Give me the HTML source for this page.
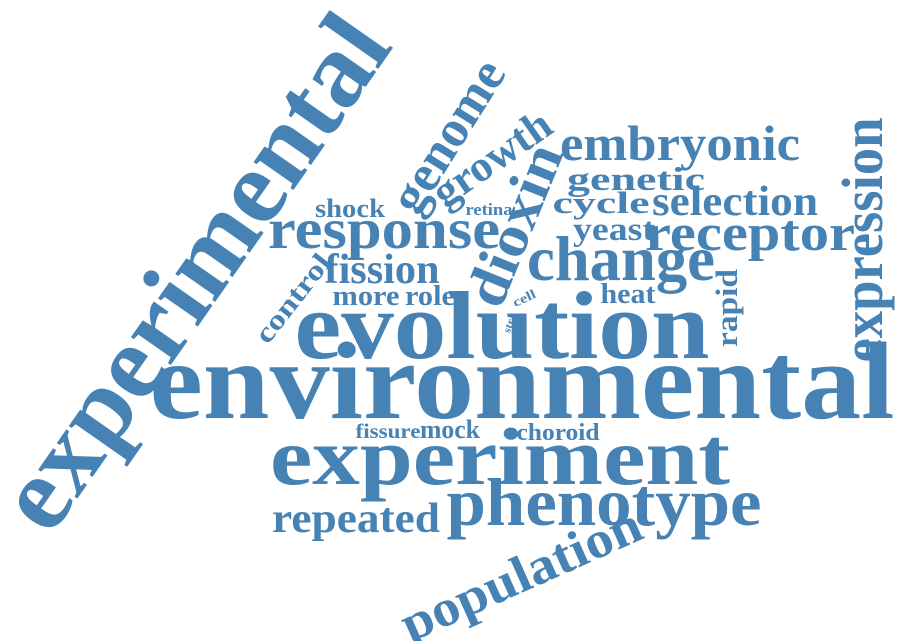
<!DOCTYPE html>
<html><head><meta charset="utf-8"><style>
html,body{margin:0;padding:0;background:#fff;}
svg{display:block;}
text{font-family:"Liberation Serif",serif;font-weight:bold;fill:#4682b4;}
</style></head><body>
<svg width="900" height="641" viewBox="0 0 900 641">
<g id="words"></g>
</svg>
<script>
// word, center x, baseline y, width, font size, rotation
const words = ["environmental","evolution","experiment","phenotype","repeated","population","experimental","expression","embryonic","genetic","selection","cycle","receptor","yeast","change","heat","rapid","response","shock","retina","genome","growth","dioxin","fission","more","role","control","cell","str","fissure","mock","choroid"];
const xs = [522,502,500,604,356,528,222,882,680,636,735,601,750,614,621,628,737,384,350,489,462,500,532,382,366,430,300,526,512,388,450,558];
const ys = [418,358,484,525,532,590,292,240,160,190,215,213,250,240,280,303,308,248,217,215,145,170,232,283,305,305,304,302,327,438,438,440];
const ws = [745,415,460,315,168,258,600,245,240,138,166,97,210,82,188,55,78,232,70,47,170,135,170,115,67,50,105,24,14,65,60,83];
const fs = [110,96,82,68,42,52,106,58,50,33,42,31,52,33,63,28,31,57,26,17,52,44,58,42,28,28,28,13,11,21,26,24];
const rot = [0,0,0,0,0,-24,-55,-90,0,0,0,0,0,0,0,0,-90,0,0,0,-58,-35,-68,0,0,0,-52,-25,-70,0,0,0];
const g = document.getElementById('words');
for (let i=0;i<words.length;i++){
  const t = document.createElementNS('http://www.w3.org/2000/svg','text');
  
  
  t.setAttribute('x', xs[i]);
  t.setAttribute('y', ys[i]);
  t.setAttribute('text-anchor','middle');
  t.setAttribute('font-size', fs[i]);
  t.setAttribute('textLength', ws[i]);
  t.setAttribute('lengthAdjust','spacingAndGlyphs');
  if (rot[i]) t.setAttribute('transform','rotate('+rot[i]+' '+xs[i]+' '+ys[i]+')');
  t.textContent = words[i];
  g.appendChild(t);
}
</script>
</body></html>
